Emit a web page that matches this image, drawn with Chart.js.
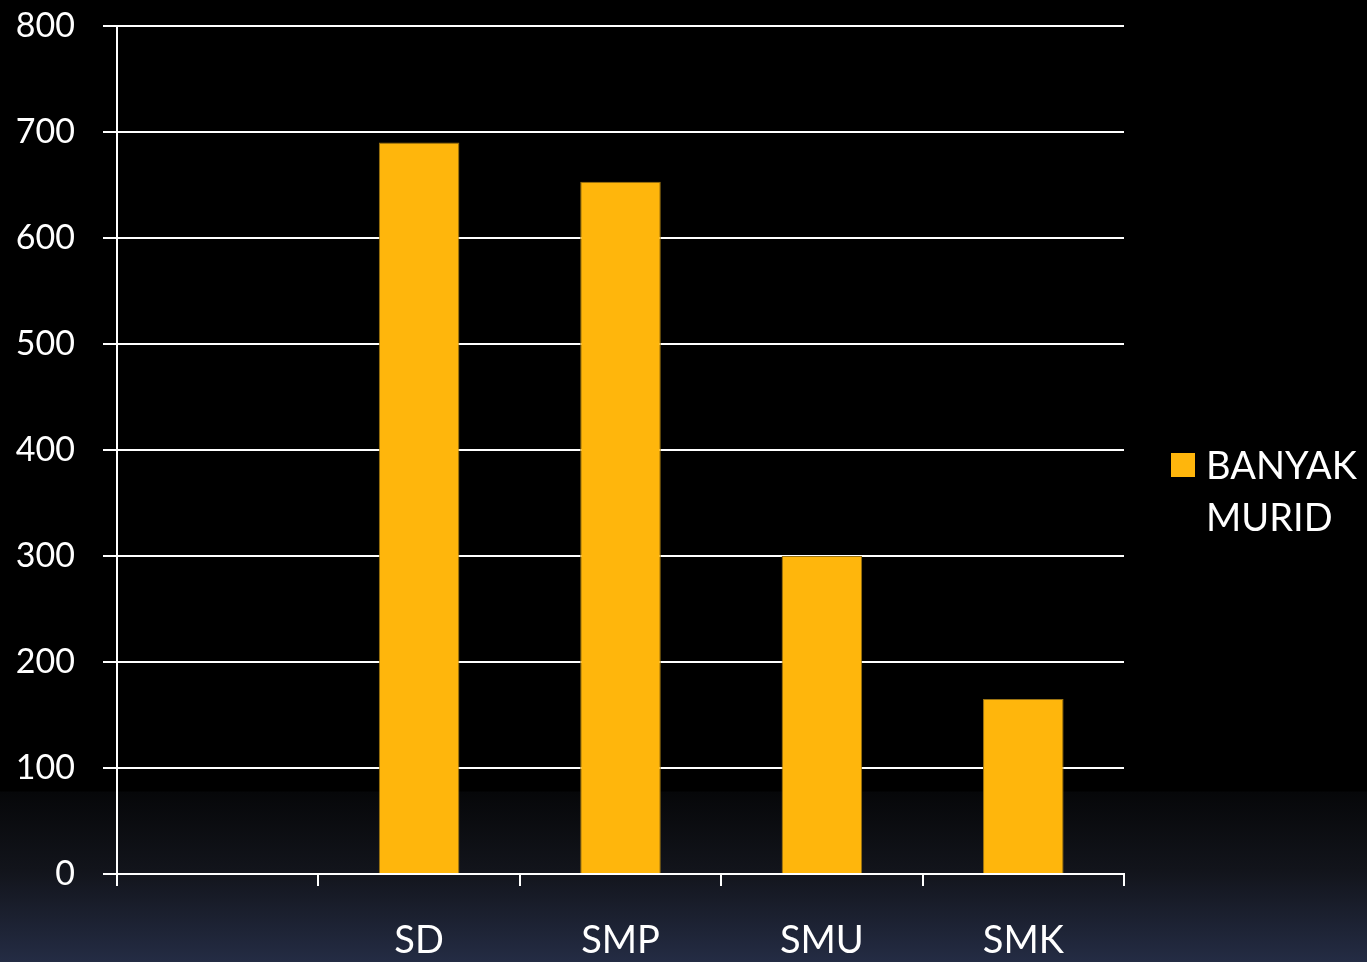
<!DOCTYPE html>
<html>
<head>
<meta charset="utf-8">
<script src="https://cdn.jsdelivr.net/npm/chart.js@4.4.1/dist/chart.umd.min.js"></script>
<style>
  html, body { margin: 0; padding: 0; }
  body {
    width: 1367px; height: 962px; overflow: hidden;
    background: linear-gradient(to bottom, #000 0px, #000 791px, #060709 792px, #12141b 870px, #242c44 962px);
    font-family: Lato, "Open Sans", sans-serif;
  }
  #wrap { position: absolute; left: 0; top: 0; width: 1367px; height: 962px; }
  #legend { position: absolute; left: 1171px; top: 438px; color: #fff; font-size: 38px; line-height: 52px; }
  #legend .box { position: absolute; left: 0; top: 15px; width: 24px; height: 24px; background: #ffb60c; }
  #legend .txt { position: absolute; left: 35px; top: 0; width: 190px; }
</style>
</head>
<body>
<div id="wrap"><canvas id="myChart"></canvas></div>
<div id="legend"><span class="box"></span><span class="txt" id="legendText"></span></div>
<script>
var categories = ['', 'SD', 'SMP', 'SMU', 'SMK'];
var banyakMurid = [null, 690, 653, 300, 165];
var seriesLabel = 'BANYAK MURID';
var yTicks = [0, 100, 200, 300, 400, 500, 600, 700, 800];

document.getElementById('legendText').textContent = seriesLabel;

var ctx = document.getElementById('myChart');
var myChart = new Chart(ctx, {
  type: 'bar',
  data: {
    labels: categories,
    datasets: [{
      label: seriesLabel,
      data: banyakMurid,
      backgroundColor: '#ffb60c',
      borderColor: '#9a7212',
      borderWidth: 1,
      barPercentage: 0.4,
      categoryPercentage: 1
    }]
  },
  options: {
    responsive: true,
    maintainAspectRatio: false,
    animation: false,
    layout: { padding: { top: 26, right: 243, left: 0, bottom: 0 } },
    plugins: { legend: { display: false }, tooltip: { enabled: false } },
    scales: {
      x: {
        offset: true,
        afterFit: function(scale) { scale.height = 88; },
        grid: { drawOnChartArea: false, offset: true, tickLength: 12, color: '#fff', lineWidth: 2 },
        border: { color: '#fff', width: 2 },
        ticks: { color: '#fff', font: { family: 'Lato', size: 38 }, padding: 32, maxRotation: 0 }
      },
      y: {
        min: 0,
        max: 800,
        afterFit: function(scale) {
          scale.width = 117;
          scale.paddingTop = 0;
          scale.paddingBottom = 0;
        },
        afterBuildTicks: function(scale) { scale.ticks = yTicks.map(function(v) { return { value: v }; }); },
        grid: { color: '#fff', lineWidth: 2, tickLength: 14 },
        border: { color: '#fff', width: 2 },
        ticks: { color: '#fff', font: { family: 'Lato', size: 34 }, padding: 28 }
      }
    }
  }
});
</script>
</body>
</html>
